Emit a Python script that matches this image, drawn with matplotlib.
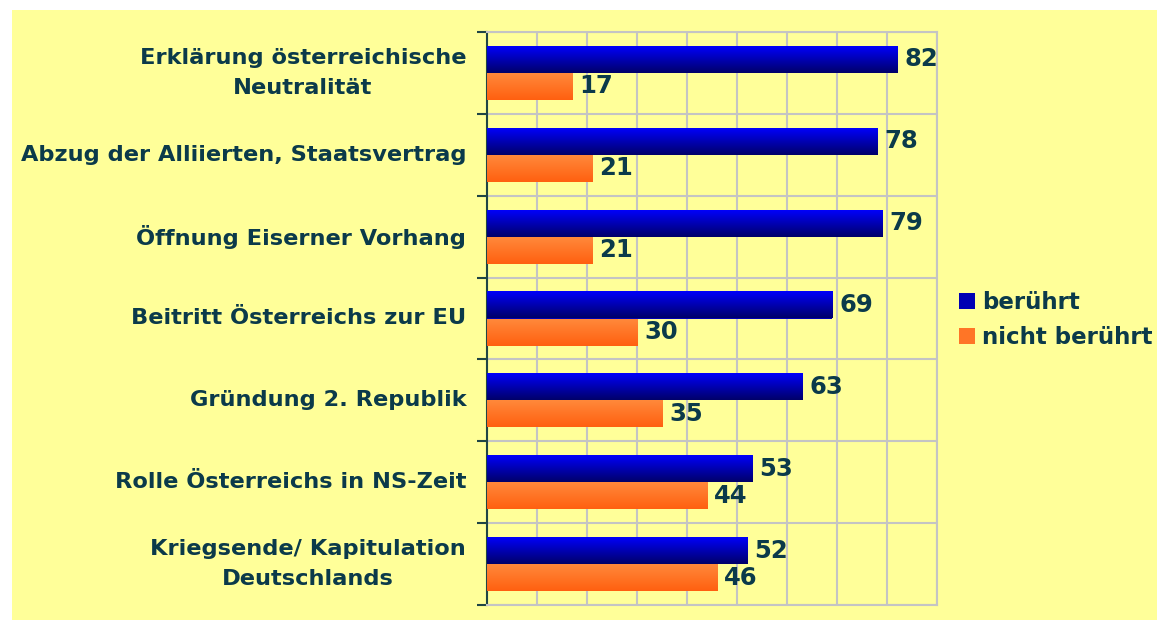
import numpy as np
import matplotlib.pyplot as plt
from matplotlib.colors import LinearSegmentedColormap

categories = ['Erklärung österreichische\nNeutralität',
              'Abzug der Alliierten, Staatsvertrag',
              'Öffnung Eiserner Vorhang',
              'Beitritt Österreichs zur EU',
              'Gründung 2. Republik',
              'Rolle Österreichs in NS-Zeit',
              'Kriegsende/ Kapitulation\nDeutschlands']
beruehrt = [82, 78, 79, 69, 63, 53, 52]
nicht_beruehrt = [17, 21, 21, 30, 35, 44, 46]

text_col = '#0B3A4A'
bg = '#FFFF99'

fig = plt.figure(figsize=(11.57, 6.2), dpi=100)
fig.patch.set_facecolor('white')
# yellow panel behind everything
fig.patches.append(plt.Rectangle((12 / 1157, 0), 1, 1 - 10 / 620, transform=fig.transFigure,
                                 facecolor=bg, edgecolor='none', zorder=-10))

ax = fig.add_axes([487 / 1157, 1 - 605 / 620, 450 / 1157, 573 / 620])
ax.set_facecolor(bg)

y = np.arange(len(categories))
h = 0.33
blue_cmap = LinearSegmentedColormap.from_list('b', ['#0000FF', '#00006A'])
orange_cmap = LinearSegmentedColormap.from_list('o', ['#FF8A3C', '#FF6010'])
grad = np.linspace(0, 1, 64).reshape(-1, 1)


def gradient_bars(vals, offset, cmap, label):
    bars = ax.barh(y + offset, vals, height=h, color=cmap(0.5), label=label, zorder=3)
    for b in bars:
        x0, y0 = b.get_x(), b.get_y()
        im = ax.imshow(grad, cmap=cmap, aspect='auto', zorder=4,
                       extent=[x0, x0 + b.get_width(), y0 + b.get_height(), y0])
        im.set_clip_path(b)
    for v, yy in zip(vals, y + offset):
        ax.text(v + 1.4, yy, str(v), va='center', ha='left', fontsize=17.5,
                fontweight='bold', color=text_col, zorder=5)


gradient_bars(beruehrt, -h / 2, blue_cmap, 'berührt')
gradient_bars(nicht_beruehrt, h / 2, orange_cmap, 'nicht berührt')

ax.set_xlim(0, 90)
ax.set_ylim(len(categories) - 0.5, -0.5)
ax.set_xticks(np.arange(0, 91, 10))
ax.set_xticklabels([])
ax.tick_params(axis='x', length=0)
ax.set_yticks(y)
ax.set_yticklabels(categories, fontsize=16.2, fontweight='bold', color=text_col,
                   multialignment='center', linespacing=1.6, va='center')
ax.tick_params(axis='y', which='major', length=0, pad=15)
ax.set_yticks(np.arange(-0.5, len(categories), 1), minor=True)
ax.tick_params(axis='y', which='minor', length=7, width=1.5, color='#1F4545')
ax.grid(True, which='major', axis='x', color='#C4C4C4', lw=1.5, zorder=1)
ax.grid(True, which='minor', axis='y', color='#C4C4C4', lw=1.5, zorder=1)
for s in ['top', 'right', 'bottom']:
    ax.spines[s].set_color('#C4C4C4')
    ax.spines[s].set_linewidth(1.5)
ax.spines['left'].set_color('#1F4545')
ax.spines['left'].set_linewidth(1.5)

leg = fig.legend(loc='center left', bbox_to_anchor=(959 / 1157, 1 - 320 / 620),
                 frameon=False, borderpad=0, borderaxespad=0,
                 handlelength=0.7, handleheight=0.7, handletextpad=0.3,
                 labelspacing=0.55, prop={'weight': 'bold', 'size': 16.5})
for t in leg.get_texts():
    t.set_color(text_col)

fig.savefig('out.png', dpi=100)
